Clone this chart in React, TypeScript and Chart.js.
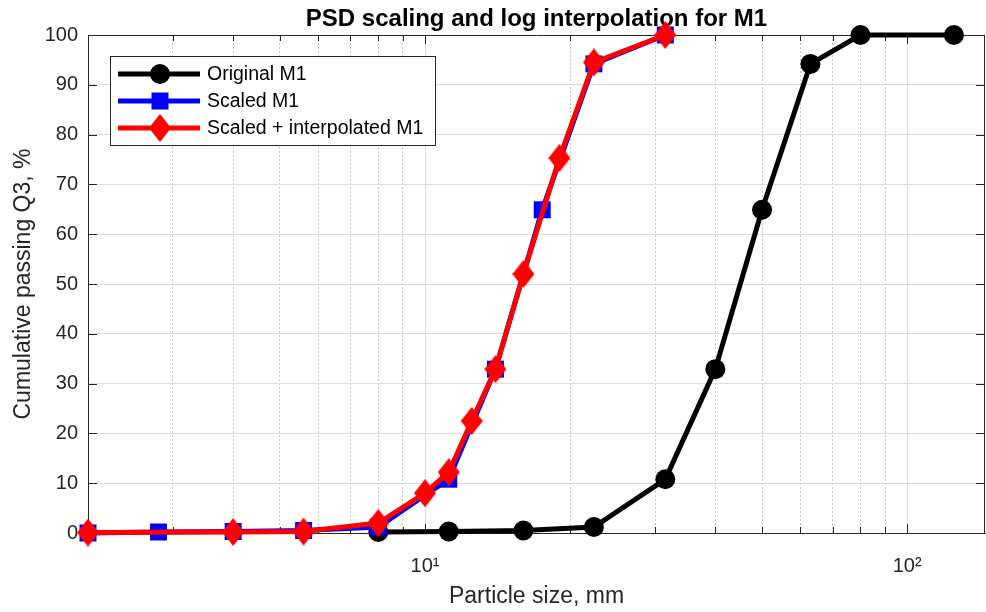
import React, { useEffect, useRef } from 'react';
import { Chart, registerables } from 'chart.js';

Chart.register(...registerables);

// ---------- data ----------
const chartTitle = 'PSD scaling and log interpolation for M1';
const xAxisTitle = 'Particle size, mm';
const yAxisTitle = 'Cumulative passing Q3, %';
const legendLabels = ['Original M1', 'Scaled M1', 'Scaled + interpolated M1'];

const xMin = 2;
const xMax = 145;
const xTickValues = [3, 4, 5, 6, 7, 8, 9, 10, 20, 30, 40, 50, 60, 70, 80, 90, 100];
const xMajorValues = [10, 100];
const xTickLabels: Record<number, string> = { 10: '10¹', 100: '10²' };
const yTickValues = [0, 10, 20, 30, 40, 50, 60, 70, 80, 90, 100];

const originalSize = [8, 11.2, 16, 22.4, 31.5, 40, 50, 63, 80, 125];
const originalPassing = [0.2, 0.3, 0.5, 1.2, 10.8, 32.9, 64.9, 94.2, 100, 100];

const scaledSize = [2, 2.8, 4, 5.6, 8, 11.2, 14, 17.5, 22.4, 31.5];
const scaledPassing = [0, 0.2, 0.3, 0.5, 1.2, 10.8, 32.9, 64.9, 94.2, 100];

const interpSize = [2, 4, 5.6, 8, 10, 11.2, 12.5, 14, 16, 19, 22.4, 31.5];
const interpPassing = [0.1, 0.2, 0.3, 2.0, 8.0, 12.2, 22.5, 32.9, 52, 75.3, 94.5, 100];

const FONT = "'Liberation Sans', Arial, Helvetica, sans-serif";
const AXIS_COLOR = '#262626';

function toPoints(xs: number[], ys: number[]) {
  return xs.map((x, i) => ({ x, y: ys[i] }));
}

function makeDiamond(w: number, h: number, color: string) {
  const c = document.createElement('canvas');
  c.width = w;
  c.height = h;
  const g = c.getContext('2d')!;
  g.fillStyle = color;
  g.beginPath();
  g.moveTo(w / 2, 0);
  g.lineTo(w, h / 2);
  g.lineTo(w / 2, h);
  g.lineTo(0, h / 2);
  g.closePath();
  g.fill();
  return c;
}

export default function App() {
  const ref = useRef<HTMLCanvasElement>(null);

  useEffect(() => {
    document.body.style.margin = '0';
    const diamond = makeDiamond(22, 28, '#ff0000');

    const decor = {
      id: 'decor',
      beforeDatasetsDraw(chart: any) {
        const { ctx, chartArea, scales } = chart;
        const { left, right, top, bottom } = chartArea;
        const x = scales.x;
        const y = scales.y;
        ctx.save();
        ctx.strokeStyle = AXIS_COLOR;
        ctx.lineWidth = 1;
        ctx.setLineDash([]);
        ctx.beginPath();
        ctx.moveTo(left, top + 0.5);
        ctx.lineTo(right, top + 0.5);
        ctx.moveTo(right - 0.5, top);
        ctx.lineTo(right - 0.5, bottom);
        yTickValues.forEach((v) => {
          const py = Math.round(y.getPixelForValue(v)) + 0.5;
          ctx.moveTo(left, py);
          ctx.lineTo(left + 9, py);
          ctx.moveTo(right, py);
          ctx.lineTo(right - 9, py);
        });
        xTickValues.forEach((v) => {
          const px = Math.round(x.getPixelForValue(v)) + 0.5;
          const len = xMajorValues.includes(v) ? 9 : 6;
          ctx.moveTo(px, bottom);
          ctx.lineTo(px, bottom - len);
          ctx.moveTo(px, top);
          ctx.lineTo(px, top + len);
        });
        ctx.stroke();
        ctx.restore();
      },
      afterDatasetsDraw(chart: any) {
        const { ctx } = chart;
        const lx = 110, ly = 56, lw = 325, lh = 89;
        ctx.save();
        ctx.setLineDash([]);
        ctx.fillStyle = '#ffffff';
        ctx.fillRect(lx, ly, lw, lh);
        ctx.strokeStyle = AXIS_COLOR;
        ctx.lineWidth = 1;
        ctx.strokeRect(lx + 0.5, ly + 0.5, lw, lh);
        const rows = [74, 101, 128];
        const colors = ['#000000', '#0000ff', '#ff0000'];
        rows.forEach((ry, i) => {
          ctx.strokeStyle = colors[i];
          ctx.lineWidth = 5;
          ctx.beginPath();
          ctx.moveTo(118, ry);
          ctx.lineTo(200, ry);
          ctx.stroke();
          ctx.fillStyle = colors[i];
          if (i === 0) {
            ctx.beginPath();
            ctx.arc(160, ry, 10, 0, Math.PI * 2);
            ctx.fill();
          } else if (i === 1) {
            ctx.fillRect(160 - 8.5, ry - 8.5, 17, 17);
          } else {
            ctx.drawImage(diamond, 160 - 11, ry - 14);
          }
          ctx.fillStyle = '#000000';
          ctx.font = `19.5px ${FONT}`;
          ctx.textBaseline = 'middle';
          ctx.textAlign = 'left';
          ctx.fillText(legendLabels[i], 207, ry + 1);
        });
        ctx.restore();
      },
    };

    const chart = new Chart(ref.current!, {
      type: 'line',
      data: {
        datasets: [
          {
            label: legendLabels[0],
            data: toPoints(originalSize, originalPassing),
            borderColor: '#000000',
            backgroundColor: '#000000',
            borderWidth: 5,
            pointStyle: 'circle',
            pointRadius: 10,
            pointBorderWidth: 0,
            pointBackgroundColor: '#000000',
            tension: 0,
            order: 3,
            clip: false as any,
          },
          {
            label: legendLabels[1],
            data: toPoints(scaledSize, scaledPassing),
            borderColor: '#0000ff',
            backgroundColor: '#0000ff',
            borderWidth: 5,
            pointStyle: 'rect',
            pointRadius: 12,
            pointBorderWidth: 0,
            pointBackgroundColor: '#0000ff',
            tension: 0,
            order: 2,
            clip: false as any,
          },
          {
            label: legendLabels[2],
            data: toPoints(interpSize, interpPassing),
            borderColor: '#ff0000',
            backgroundColor: '#ff0000',
            borderWidth: 5,
            pointStyle: diamond as any,
            pointRadius: 14,
            pointBorderWidth: 0,
            tension: 0,
            order: 1,
            clip: false as any,
          },
        ],
      },
      options: {
        responsive: false,
        animation: false,
        devicePixelRatio: 1,
        layout: { autoPadding: false, padding: { left: 0, right: 1, top: 0, bottom: 0 } },
        plugins: {
          legend: { display: false },
          tooltip: { enabled: false },
          title: {
            display: true,
            fullSize: false,
            text: chartTitle,
            color: '#000000',
            font: { family: FONT, size: 24, weight: 'bold', lineHeight: 1.2 },
            padding: { top: 5, bottom: 1.2 },
          },
        },
        scales: {
          x: {
            type: 'logarithmic',
            min: xMin,
            max: xMax,
            afterBuildTicks: (scale: any) => {
              scale.ticks = xTickValues.map((v) => ({ value: v }));
            },
            afterFit: (scale: any) => {
              scale.height = 79;
              scale.paddingLeft = 0;
              scale.paddingRight = 0;
            },
            ticks: {
              autoSkip: false,
              maxRotation: 0,
              minRotation: 0,
              padding: 21,
              color: AXIS_COLOR,
              font: { family: FONT, size: 20 },
              callback: (v: any) => xTickLabels[Number(v)] ?? '',
            },
            grid: {
              drawTicks: false,
              lineWidth: 1,
              color: (c: any) =>
                c.tick && xMajorValues.includes(c.tick.value) ? '#dcdcdc' : '#c8c8c8',
            },
            border: {
              color: AXIS_COLOR,
              width: 1,
              dash: (c: any) =>
                c.tick && !xMajorValues.includes(c.tick.value) ? [2, 2] : [],
            } as any,
            title: {
              display: true,
              text: xAxisTitle,
              color: AXIS_COLOR,
              font: { family: FONT, size: 23, lineHeight: 1.2 },
              padding: { top: 0, bottom: 2 },
            },
          },
          y: {
            type: 'linear',
            min: 0,
            max: 100,
            afterFit: (scale: any) => {
              scale.width = 88;
            },
            ticks: {
              stepSize: 10,
              padding: 10,
              color: AXIS_COLOR,
              font: { family: FONT, size: 20 },
            },
            grid: {
              drawTicks: false,
              lineWidth: 1,
              color: (c: any) => (c.tick && c.tick.value === 0 ? 'rgba(0,0,0,0)' : '#dcdcdc'),
            },
            border: { color: AXIS_COLOR, width: 1 },
            title: {
              display: true,
              text: yAxisTitle,
              color: AXIS_COLOR,
              font: { family: FONT, size: 23, lineHeight: 1.2 },
              padding: { top: 10, bottom: 0 },
            },
          },
        },
      },
      plugins: [decor],
    } as any);

    return () => chart.destroy();
  }, []);

  return (
    <div style={{ width: 986, height: 612 }}>
      <canvas ref={ref} width={986} height={612} style={{ display: 'block' }} />
    </div>
  );
}
